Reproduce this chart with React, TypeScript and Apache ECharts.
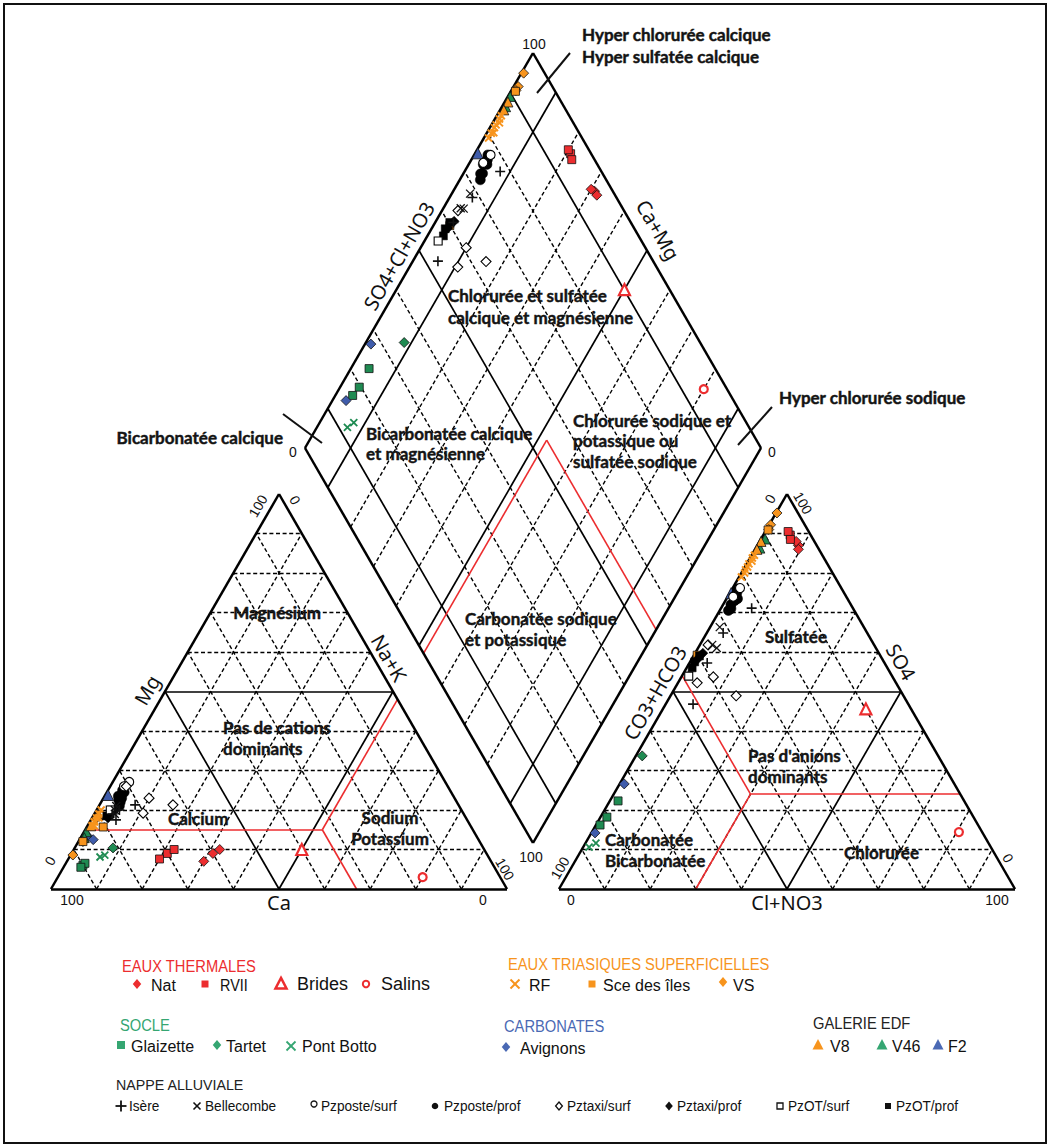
import React, { useEffect, useRef } from "react";
import * as echarts from "echarts";

// ---------- data: [Mg %, Na+K %, SO4 %, Cl+NO3 %] (Ca and HCO3 are the remainders) ----------
const natData = [[9, 31, 87, 9], [7, 30, 86, 9.5], [10, 32, 88, 8]];
const rviiData = [[9, 21, 89.6, 5.9], [7.6, 20, 90.5, 5], [10, 22, 88.5, 6.5]];
const bridesData = [[10, 50, 45.6, 44.5]];
const salinsData = [[3, 80, 14.4, 80.5]];
const rfData = [[17, 1, 79, 0.5], [18, 1, 80, 0.7], [16, 1.5, 80.8, 0.5], [19, 1, 81.5, 0.6], [17, 1, 82.3, 0.5], [18, 1.5, 83, 0.8], [20, 1, 83.8, 0.5], [16, 1, 84.5, 0.6]];
const sceIlesData = [[15.7, 3.6, 59.2, 0.7], [12, 1, 90.9, 0.4]];
const vsData = [[8.6, 0.5, 95.2, 0.2], [18, 1, 92.2, 0.3], [12, 1, 91, 0.5]];
const glaizetteData = [[6, 4, 22.3, 1.8], [6.5, 4.2, 18.2, 1.4], [5.5, 3.8, 16.2, 0.9]];
const tartetData = [[10.4, 8.4, 33.7, 1.4]];
const pontBottoData = [[8.6, 7.5, 11.6, 2.3], [8.1, 6.7, 10.6, 1.3]];
const avignonsData = [[13.4, 1.3, 26.6, 1.0], [12.5, 3, 14.2, 0.8]];
const v8Data = [[16, 0.7, 88, 0.3], [19, 0.8, 86, 0.4]];
const v46Data = [[14.5, 0.5, 88.6, 0.9], [13, 0.8, 86.3, 0.9]];
const f2Data = [[23.8, 0.6, 74.9, 0.3]];
const isereData = [[21.3, 7.8, 71.1, 6.7], [17.5, 5.5, 46.8, 6.0], [19, 4, 57.2, 3.9], [20, 5, 64.8, 3.6]];
const bellecombeData = [[20, 4, 66.3, 2.1], [21, 3.8, 61.8, 2.7], [19, 4.5, 61, 4.1]];
const pzposteSurfData = [[27.1, 3.6, 76.2, 1.6], [26, 3, 74, 1.2]];
const pzposteProfData = [[24, 3.5, 75, 1.5], [23, 4, 74, 1.8], [25, 3.2, 73, 2], [22, 4.2, 72, 1.7], [24.5, 3.8, 71, 2.2], [21, 4.5, 70.5, 1.9], [23.5, 3, 76, 1.2], [22.5, 3.6, 73.5, 2.4]];
const pztaxiSurfData = [[21.3, 16.1, 48.9, 14.4], [19.2, 10.6, 52.2, 4.2], [23, 10, 53.7, 7], [26, 3.5, 61.8, 1.8]];
const pztaxiProfData = [[20, 4, 59.7, 1.7], [18, 3.5, 58, 1.2]];
const pzotSurfData = [[20, 3, 53.9, 1.5]];
const pzotProfData = [[19, 3.5, 56, 1.2], [18.5, 3, 57.5, 1.0], [20, 3.2, 59, 1.3]];

// classification boundaries (red lines), %
const cationSplit = { mg: 15, na: 52 }; // Ca = 33
const anionSplit = { so4: 24, cl: 30 }; // HCO3 = 46

const gridSteps = [1, 2, 3, 4, 5, 6, 7, 8, 9];
const diamondSolid = [1, 5, 9];
const triangleSolid = [5];

// ---------- geometry ----------
const SIDE = 456;
const HGT = 395;
const CAT = { a: [51, 889], b: [507, 889], c: [279, 494] }; // a = Ca, b = Na+K, c = Mg
const AN = { a: [559, 889], b: [1015, 889], c: [787, 494] }; // a = HCO3, b = Cl, c = SO4
const DB = [533, 843];

const bary = (T: any, a: number, b: number, c: number) => [
  a * T.a[0] + b * T.b[0] + c * T.c[0],
  a * T.a[1] + b * T.b[1] + c * T.c[1],
];
const catXY = (mg: number, na: number) => bary(CAT, 1 - mg / 100 - na / 100, na / 100, mg / 100);
const anXY = (so4: number, cl: number) => bary(AN, 1 - so4 / 100 - cl / 100, cl / 100, so4 / 100);
const diaXY = (s: number, m: number) => [DB[0] + (SIDE / 2) * (s - m), DB[1] - HGT * (s + m)];

const RED = "#ec2d2f";
const ORANGE = "#f7941d";
const GREEN = "#1f8b52";
const GREEN_T = "#35a672";
const BLUE = "#3f5cab";
const BLUE_T = "#4a69b4";

function samplePoints(rows: number[][]) {
  const out: number[][] = [];
  rows.forEach(([mg, na, so4, cl]) => {
    out.push(catXY(mg, na));
    out.push(anXY(so4, cl));
    out.push(diaXY((so4 + cl) / 100, 1 - na / 100));
  });
  return out;
}

function triSegs(T: any) {
  const solid: number[][][] = [];
  const dashed: number[][][] = [];
  gridSteps.forEach((k) => {
    const f = k / 10;
    const segs = [
      [bary(T, 1 - f, 0, f), bary(T, 0, 1 - f, f)],
      [bary(T, f, 1 - f, 0), bary(T, f, 0, 1 - f)],
      [bary(T, 1 - f, f, 0), bary(T, 0, f, 1 - f)],
    ];
    segs.forEach((s) => (triangleSolid.includes(k) ? solid : dashed).push(s));
  });
  return { solid, dashed };
}

function diaSegs() {
  const solid: number[][][] = [];
  const dashed: number[][][] = [];
  gridSteps.forEach((k) => {
    const f = k / 10;
    const segs = [
      [diaXY(f, 0), diaXY(f, 1)],
      [diaXY(0, f), diaXY(1, f)],
    ];
    segs.forEach((s) => (diamondSolid.includes(k) ? solid : dashed).push(s));
  });
  return { solid, dashed };
}

const CROSS = "path://M0,0L10,10M10,0L0,10";
const PLUS = "path://M5,0L5,10M0,5L10,5";

function txt(text: string, x: number, y: number, o: any = {}) {
  const style: any = {
    text,
    fill: o.color || "#111",
    fontSize: o.size || 14,
    fontFamily: o.family || "Liberation Sans",
    fontWeight: o.weight || "normal",
    align: o.align || "left",
    verticalAlign: "middle",
    textAlign: o.align || "left",
    textVerticalAlign: "middle",
  };
  if (o.stroke) {
    style.stroke = o.color || "#111";
    style.lineWidth = o.stroke;
  }
  return { type: "text", x, y, rotation: o.rot || 0, scaleX: o.sx || 1, silent: true, z: 100, style };
}

const bold = (text: string, x: number, y: number, align = "left") =>
  txt(text, x, y, { size: 17, family: "Lato", weight: "bold", align, color: "#141414", stroke: 0.45 });

function lineEl(x1: number, y1: number, x2: number, y2: number, w = 2, color = "#111") {
  return { type: "line", silent: true, z: 90, shape: { x1, y1, x2, y2 }, style: { stroke: color, lineWidth: w } };
}

// legend symbols
function symDiamond(x: number, y: number, r: number, fill: string, stroke = "none", lw = 0) {
  return { type: "polygon", silent: true, z: 100, shape: { points: [[x, y - r], [x + r * 0.85, y], [x, y + r], [x - r * 0.85, y]] }, style: { fill, stroke, lineWidth: lw } };
}
function symSquare(x: number, y: number, s: number, fill: string, stroke = "none", lw = 0) {
  return { type: "rect", silent: true, z: 100, shape: { x: x - s / 2, y: y - s / 2, width: s, height: s }, style: { fill, stroke, lineWidth: lw } };
}
function symTri(x: number, y: number, s: number, fill: string, stroke = "none", lw = 0) {
  return { type: "polygon", silent: true, z: 100, shape: { points: [[x, y - s * 0.55], [x + s / 2, y + s * 0.4], [x - s / 2, y + s * 0.4]] }, style: { fill, stroke, lineWidth: lw } };
}
function symCircle(x: number, y: number, r: number, fill: string, stroke = "none", lw = 0) {
  return { type: "circle", silent: true, z: 100, shape: { cx: x, cy: y, r }, style: { fill, stroke, lineWidth: lw } };
}
function symCross(x: number, y: number, r: number, color: string, lw = 2) {
  return [lineEl(x - r, y - r, x + r, y + r, lw, color), lineEl(x - r, y + r, x + r, y - r, lw, color)];
}
function symPlus(x: number, y: number, r: number, color: string, lw = 2) {
  return [lineEl(x - r, y, x + r, y, lw, color), lineEl(x, y - r, x, y + r, lw, color)];
}

function buildOption() {
  const lt = triSegs(CAT);
  const rt = triSegs(AN);
  const dm = diaSegs();
  const outline = [
    [CAT.a, CAT.b], [CAT.b, CAT.c], [CAT.c, CAT.a],
    [AN.a, AN.b], [AN.b, AN.c], [AN.c, AN.a],
    [diaXY(0, 0), diaXY(1, 0)], [diaXY(1, 0), diaXY(1, 1)], [diaXY(1, 1), diaXY(0, 1)], [diaXY(0, 1), diaXY(0, 0)],
  ];
  const cj = catXY(cationSplit.mg, cationSplit.na);
  const aj = anXY(anionSplit.so4, anionSplit.cl);
  const hco3 = 100 - anionSplit.so4 - anionSplit.cl;
  const ps = (100 - hco3) / 100;
  const pm = 1 - cationSplit.na / 100;
  const red = [
    [cj, catXY(cationSplit.mg, 0)],
    [cj, catXY(0, cationSplit.mg + cationSplit.na)],
    [cj, catXY(100 - cationSplit.na, cationSplit.na)],
    [aj, anXY(100 - hco3, 0)],
    [aj, anXY(0, anionSplit.cl)],
    [aj, anXY(anionSplit.so4, 100 - anionSplit.so4)],
    [diaXY(ps, pm), diaXY(0, pm)],
    [diaXY(ps, pm), diaXY(ps, 0)],
  ];

  const linesSeries = (data: number[][][], width: number, type: any, color = "#000", z = 1) => ({
    type: "lines",
    coordinateSystem: "cartesian2d",
    silent: true,
    z,
    polyline: false,
    symbol: "none",
    lineStyle: { color, width, type, opacity: 1 },
    data: data.map((c) => ({ coords: c })),
  });

  const sc = (name: string, rows: number[][], symbol: string, size: any, style: any, z = 5) => ({
    name,
    type: "scatter",
    silent: true,
    z,
    symbol,
    symbolSize: size,
    itemStyle: { opacity: 1, ...style },
    data: samplePoints(rows),
  });
  const edge = { borderColor: "#111", borderWidth: 0.8 };

  const series: any[] = [
    linesSeries([...lt.dashed, ...rt.dashed, ...dm.dashed], 1.4, [4, 2.6]),
    linesSeries([...lt.solid, ...rt.solid, ...dm.solid], 1.7, "solid"),
    linesSeries(red, 1.6, "solid", RED, 2),
    linesSeries(outline, 2.5, "solid", "#000", 3),
    sc("Glaizette", glaizetteData, "rect", 8, { color: GREEN, ...edge }),
    sc("Tartet", tartetData, "diamond", 10, { color: GREEN, ...edge }),
    sc("Pont Botto", pontBottoData, CROSS, 7, { color: "none", borderColor: GREEN, borderWidth: 1.8 }),
    sc("Avignons", avignonsData, "diamond", 10, { color: BLUE, ...edge }),
    sc("F2", f2Data, "triangle", 11, { color: BLUE, ...edge }),
    sc("V46", v46Data, "triangle", 10, { color: GREEN, ...edge }),
    sc("V8", v8Data, "triangle", 10, { color: ORANGE, ...edge }),
    sc("VS", vsData, "diamond", 10, { color: ORANGE, ...edge }),
    sc("Sce des îles", sceIlesData, "rect", 8, { color: ORANGE, ...edge }),
    sc("RF", rfData, CROSS, 7, { color: "none", borderColor: ORANGE, borderWidth: 2 }),
    sc("Nat", natData, "diamond", 10, { color: RED, ...edge }),
    sc("RVII", rviiData, "rect", 8, { color: RED, ...edge }),
    sc("Brides", bridesData, "triangle", 11, { color: "#fff", borderColor: RED, borderWidth: 2.2 }),
    sc("Salins", salinsData, "circle", 8, { color: "#fff", borderColor: RED, borderWidth: 2.2 }),
    sc("Pzposte/prof", pzposteProfData, "circle", 10, { color: "#000", borderColor: "#000", borderWidth: 0.5 }, 6),
    sc("PzOT/prof", pzotProfData, "rect", 8, { color: "#000", borderColor: "#000", borderWidth: 0.5 }, 6),
    sc("Pztaxi/prof", pztaxiProfData, "diamond", 10, { color: "#000", borderColor: "#000", borderWidth: 0.5 }, 6),
    sc("Pzposte/surf", pzposteSurfData, "circle", 9, { color: "#fff", borderColor: "#000", borderWidth: 1.1 }, 7),
    sc("Pztaxi/surf", pztaxiSurfData, "diamond", 10, { color: "#fff", borderColor: "#000", borderWidth: 1.1 }, 7),
    sc("PzOT/surf", pzotSurfData, "rect", 8, { color: "#fff", borderColor: "#000", borderWidth: 1.1 }, 7),
    sc("Bellecombe", bellecombeData, CROSS, 8, { color: "none", borderColor: "#111", borderWidth: 1.3 }, 7),
    sc("Isère", isereData, PLUS, 10, { color: "none", borderColor: "#111", borderWidth: 1.6 }, 7),
  ];

  const R3 = Math.PI / 3;
  const axisF = { size: 20, family: "Noto Sans", align: "center" };
  const tickF = { size: 14, family: "Liberation Sans", align: "center" };
  const lg = { size: 16, family: "Liberation Sans" };
  const hd = { size: 16, family: "Liberation Sans", sx: 0.92 };
  const nap = { size: 15.5, family: "Liberation Sans", sx: 0.88 };

  const g: any[] = [
    { type: "rect", silent: true, z: 100, shape: { x: 4, y: 4, width: 1042, height: 1139 }, style: { fill: "none", stroke: "#111", lineWidth: 2 } },
    // diamond labels
    bold("Hyper chlorurée calcique", 582, 34),
    bold("Hyper sulfatée calcique", 582, 56),
    lineEl(570, 53, 537, 93, 2),
    bold("Chlorurée et sulfatée", 448, 295),
    bold("calcique et magnésienne", 448, 317),
    bold("Bicarbonatée calcique", 283, 437, "right"),
    lineEl(283, 414, 322, 443, 2),
    bold("Bicarbonatée calcique", 366, 433),
    bold("et magnésienne", 366, 453),
    bold("Chlorurée sodique et", 573, 420),
    bold("potassique ou", 573, 440),
    bold("sulfatée sodique", 573, 461),
    bold("Hyper chlorurée sodique", 779, 397),
    lineEl(772, 407, 738, 445, 2),
    bold("Carbonatée sodique", 465, 618),
    bold("et potassique", 465, 639),
    // cation triangle labels
    bold("Magnésium", 277, 612, "center"),
    bold("Pas de cations", 223, 727),
    bold("dominants", 223, 748),
    bold("Calcium", 168, 818),
    bold("Sodium", 390, 817, "center"),
    bold("Potassium", 390, 838, "center"),
    // anion triangle labels
    bold("Sulfatée", 796, 636, "center"),
    bold("Pas d'anions", 748, 755),
    bold("dominants", 748, 776),
    bold("Carbonatée", 605, 839),
    bold("Bicarbonatée", 605, 860),
    bold("Chlorurée", 919, 852, "right"),
    // axis names
    txt("SO4+Cl+NO3", 399, 256, { ...axisF, rot: R3 }),
    txt("Ca+Mg", 658, 230, { ...axisF, rot: -R3 }),
    txt("Mg", 147, 690, { ...axisF, rot: R3 }),
    txt("Na+K", 389, 658, { ...axisF, rot: -R3 }),
    txt("Ca", 279, 902, axisF),
    txt("CO3+HCO3", 655, 693, { ...axisF, rot: R3 }),
    txt("SO4", 901, 662, { ...axisF, rot: -R3 }),
    txt("Cl+NO3", 787, 902, axisF),
    // tick labels
    txt("100", 534, 44, tickF),
    txt("100", 531, 857, tickF),
    txt("0", 293, 452, tickF),
    txt("0", 772, 452, tickF),
    txt("100", 258, 506, { ...tickF, rot: R3 }),
    txt("0", 295, 500, { ...tickF, rot: -R3 }),
    txt("0", 50, 861, { ...tickF, rot: R3 }),
    txt("100", 72, 900, tickF),
    txt("0", 483, 900, tickF),
    txt("100", 505, 869, { ...tickF, rot: -R3 }),
    txt("0", 770, 499, { ...tickF, rot: R3 }),
    txt("100", 803, 503, { ...tickF, rot: -R3 }),
    txt("100", 560, 868, { ...tickF, rot: R3 }),
    txt("0", 571, 900, tickF),
    txt("100", 997, 900, tickF),
    txt("0", 1008, 858, { ...tickF, rot: -R3 }),

    // ---- legend ----
    txt("EAUX THERMALES", 122, 966, { ...hd, color: RED }),
    symDiamond(137, 984, 5, RED),
    txt("Nat", 151, 985, lg),
    symSquare(205, 984, 7, RED),
    txt("RVII", 220, 985, { ...lg, sx: 0.9 }),
    symTri(281, 984, 11, "#fff", RED, 2.5),
    txt("Brides", 297, 984, { ...lg, size: 18 }),
    symCircle(366, 984, 3.2, "#fff", RED, 2),
    txt("Salins", 381, 984, { ...lg, size: 18 }),

    txt("EAUX TRIASIQUES SUPERFICIELLES", 508, 964, { ...hd, color: ORANGE }),
    ...symCross(515, 984, 4.5, ORANGE, 2),
    txt("RF", 529, 985, lg),
    symSquare(592, 984, 7, ORANGE),
    txt("Sce des îles", 603, 985, lg),
    symDiamond(723, 982, 5, ORANGE),
    txt("VS", 733, 985, lg),

    txt("SOCLE", 120, 1025, { ...hd, color: GREEN_T }),
    symSquare(121, 1045, 8, GREEN_T),
    txt("Glaizette", 131, 1046, lg),
    symDiamond(217, 1045, 5, GREEN_T),
    txt("Tartet", 226, 1046, lg),
    ...symCross(291, 1046, 4.5, GREEN_T, 1.8),
    txt("Pont Botto", 302, 1046, lg),

    txt("CARBONATES", 504, 1026, { ...hd, color: BLUE_T }),
    symDiamond(506, 1047, 5, BLUE_T),
    txt("Avignons", 520, 1048, lg),

    txt("GALERIE EDF", 813, 1023, { ...hd, color: "#222" }),
    symTri(818, 1045, 11, ORANGE),
    txt("V8", 830, 1046, lg),
    symTri(882, 1045, 11, GREEN_T),
    txt("V46", 892, 1046, lg),
    symTri(938, 1045, 11, BLUE_T),
    txt("F2", 948, 1046, lg),

    txt("NAPPE ALLUVIALE", 116, 1085, { size: 15, family: "Liberation Sans", sx: 0.95, color: "#222" }),
    ...symPlus(121, 1106, 5.5, "#111", 1.8),
    txt("Isère", 129, 1106, nap),
    ...symCross(197, 1106, 3.5, "#111", 1.6),
    txt("Bellecombe", 205, 1106, nap),
    symCircle(314, 1104, 3, "#fff", "#111", 1.3),
    txt("Pzposte/surf", 321, 1106, nap),
    symCircle(435, 1106, 3.3, "#111"),
    txt("Pzposte/prof", 444, 1106, nap),
    symDiamond(559, 1106, 4, "#fff", "#111", 1.3),
    txt("Pztaxi/surf", 567, 1106, nap),
    symDiamond(669, 1106, 4.5, "#111"),
    txt("Pztaxi/prof", 677, 1106, nap),
    symSquare(780, 1106, 6, "#fff", "#111", 1.3),
    txt("PzOT/surf", 788, 1106, nap),
    symSquare(888, 1106, 6, "#111"),
    txt("PzOT/prof", 896, 1106, nap),
  ];

  return {
    animation: false,
    backgroundColor: "#fff",
    grid: { left: 0, right: 0, top: 0, bottom: 0 },
    xAxis: { type: "value", min: 0, max: 1050, show: false },
    yAxis: { type: "value", min: 0, max: 1147, inverse: true, show: false },
    series,
    graphic: { elements: g },
  };
}

export default function App() {
  const ref = useRef<HTMLDivElement>(null);
  useEffect(() => {
    document.body.style.margin = "0";
    const chart = echarts.init(ref.current as HTMLDivElement, null, { renderer: "svg" });
    chart.setOption(buildOption() as any);
    return () => chart.dispose();
  }, []);
  return <div ref={ref} style={{ width: 1050, height: 1147, background: "#fff" }} />;
}
